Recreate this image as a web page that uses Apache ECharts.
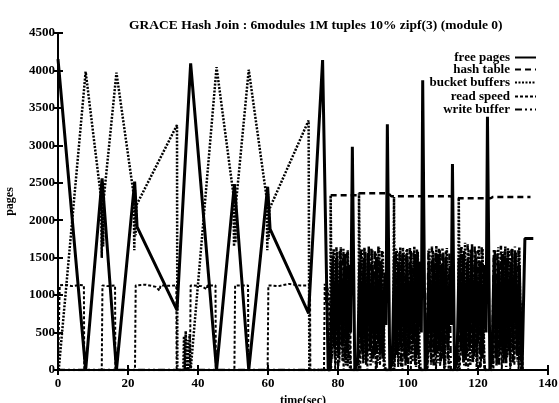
<!DOCTYPE html>
<html>
<head>
<meta charset="utf-8">
<script src="https://cdn.jsdelivr.net/npm/echarts@6/dist/echarts.min.js"></script>
<style>
  html, body { margin: 0; padding: 0; background: #fff; }
  #chart { width: 559px; height: 403px; }
</style>
</head>
<body>
<div id="chart"></div>
<script>
// time (sec) / pages
const freePages = [
  [0, 4150], [7.9, 0], [12.6, 2560], [16.7, 0], [21.9, 2515], [22.6, 1910], [34, 800],
  [37.9, 4095], [45.3, 0], [50.4, 2483], [54.5, 0], [59.9, 2447], [60.6, 1880], [71.6, 757],
  [75.6, 4140], [77.2, 0], [77.8, 0],
  [78.4, 1400], [79.0, 300], [79.6, 1500], [80.2, 200], [80.8, 1450], [81.4, 350], [82.0, 1550], [82.6, 250], [83.2, 1400], [83.6, 500],
  [84.1, 2980], [84.8, 0], [85.6, 100],
  [86.2, 1450], [86.8, 250], [87.4, 1500], [88.0, 150], [88.6, 1550], [89.2, 300], [89.8, 1400], [90.4, 200], [91.0, 1500], [91.6, 350], [92.2, 1450], [92.8, 150], [93.4, 1300], [93.7, 600],
  [94.1, 3280], [94.8, 0], [95.5, 100],
  [96.1, 1500], [96.7, 200], [97.3, 1450], [97.9, 300], [98.5, 1550], [99.1, 150], [99.7, 1500], [100.3, 250], [100.9, 1400], [101.5, 350], [102.1, 1550], [102.7, 200], [103.3, 1450], [103.8, 500],
  [104.2, 3870], [104.9, 0], [105.4, 150],
  [106.0, 1450], [106.6, 300], [107.2, 1500], [107.8, 200], [108.4, 1550], [109.0, 250], [109.6, 1400], [110.2, 150], [110.8, 1500], [111.4, 300], [112.0, 1350], [112.3, 600],
  [112.7, 2750], [113.3, 0], [114.0, 100],
  [114.6, 1500], [115.2, 250], [115.8, 1550], [116.4, 150], [117.0, 1450], [117.6, 300], [118.2, 1600], [118.8, 200], [119.4, 1500], [120.0, 350], [120.6, 1450], [121.2, 150], [121.8, 1400], [122.3, 500],
  [122.7, 3380], [123.4, 0], [124.0, 150],
  [124.6, 1500], [125.2, 200], [125.8, 1450], [126.4, 300], [127.0, 1550], [127.6, 150], [128.2, 1500], [128.8, 250], [129.4, 1450], [130.0, 350], [130.6, 1550], [131.2, 200], [131.8, 1400], [132.3, 300],
  [132.6, 0], [133.4, 1756], [135.8, 1756]
];

const hashTable = [
  [77.9, 2333], [85.9, 2333], [86.1, 2360], [94.4, 2360], [95.2, 2320], [112.0, 2320],
  [114.5, 2293], [123.6, 2293], [124.3, 2311], [135, 2311]
];

const bucketBuffers = [
  [0.2, 0], [7.9, 3984], [12.3, 2300], [12.5, 1500], [12.7, 2450], [12.9, 1650], [13.1, 2300],
  [16.7, 3970], [21.6, 2350], [21.8, 1600], [22.0, 2400], [22.2, 1800], [22.4, 2200], [34, 3271], [34.1, 0],
  [35.8, 0], [36.0, 450], [36.2, 0], [36.5, 520], [36.7, 0], [37.0, 400], [37.2, 0], [37.6, 480], [37.9, 0],
  [45.3, 4044], [50.1, 2350], [50.3, 1650], [50.5, 2400], [50.7, 1700], [50.9, 2250],
  [54.5, 4009], [59.6, 2300], [59.8, 1600], [60.0, 2350], [60.2, 1750], [60.4, 2150],
  [71.6, 3333], [71.8, 0], [77.8, 0], [77.9, 2333],
  [78.3, 150], [78.8, 1620], [79.3, 80], [79.8, 1580], [80.3, 250], [80.8, 1640], [81.3, 120], [81.8, 1550], [82.3, 60], [82.8, 1600], [83.3, 300], [83.6, 0],
  [85.9, 0], [86.0, 2360], [86.3, 900], [86.8, 1620], [87.3, 100], [87.8, 1580], [88.3, 200], [88.8, 1650], [89.3, 50], [89.8, 1600], [90.3, 180], [90.8, 1560], [91.3, 90], [91.8, 1630], [92.3, 220], [92.8, 1590], [93.3, 100], [93.6, 0],
  [95.8, 0], [96.0, 2311], [96.3, 150], [96.8, 1600], [97.3, 80], [97.8, 1640], [98.3, 260], [98.8, 1570], [99.3, 60], [99.8, 1620], [100.3, 200], [100.8, 1590], [101.3, 110], [101.8, 1650], [102.3, 40], [102.8, 1580], [103.3, 250], [103.6, 0],
  [105.3, 0], [105.6, 120], [106.1, 1620], [106.6, 70], [107.1, 1590], [107.6, 230], [108.1, 1660], [108.6, 90], [109.1, 1600], [109.6, 160], [110.1, 1570], [110.6, 40], [111.1, 1630], [111.6, 200], [111.9, 0],
  [114.3, 0], [114.5, 2293], [114.8, 800], [115.3, 1650], [115.8, 100], [116.3, 1700], [116.8, 220], [117.3, 1610], [117.8, 60], [118.3, 1680], [118.8, 150], [119.3, 1590], [119.8, 90], [120.3, 1660], [120.8, 240], [121.3, 1620], [121.8, 80], [122.1, 0],
  [124.0, 0], [124.3, 100], [124.8, 1600], [125.3, 60], [125.8, 1640], [126.3, 210], [126.8, 1580], [127.3, 90], [127.8, 1650], [128.3, 170], [128.8, 1600], [129.3, 50], [129.8, 1620], [130.3, 230], [130.8, 1570], [131.3, 110], [131.8, 1640], [132.3, 30], [132.6, 0]
];

const readSpeed = [
  [0, 0], [0.5, 1130], [2, 1140], [4, 1120], [6, 1135], [7.4, 1130], [7.5, 0],
  [12.5, 0], [12.7, 1130], [14, 1120], [16.3, 1130], [16.4, 0],
  [22.0, 0], [22.2, 1130], [25, 1140], [28, 1110], [29, 1060], [29.3, 1130], [32, 1125], [33.8, 1130], [33.9, 0],
  [37.7, 0], [37.9, 1130], [41, 1120], [42.5, 1080], [42.7, 1130], [45.0, 1130], [45.1, 0],
  [50.4, 0], [50.6, 1130], [54.3, 1130], [54.4, 0],
  [59.9, 0], [60.1, 1130], [63, 1120], [66, 1150], [69, 1130], [72.0, 1130], [72.1, 0],
  [76.0, 0], [76.2, 1150], [76.6, 900], [77.0, 1100], [77.4, 950], [77.7, 0],
  [78.6, 950], [79.2, 0], [79.8, 900], [80.4, 100], [81.0, 980], [81.6, 0], [82.2, 920], [82.8, 50], [83.4, 950], [83.7, 0],
  [86.4, 0], [86.6, 940], [87.2, 80], [87.8, 960], [88.4, 0], [89.0, 900], [89.6, 120], [90.2, 970], [90.8, 0], [91.4, 930], [92.0, 60], [92.6, 950], [93.2, 0],
  [96.2, 0], [96.6, 960], [97.2, 40], [97.8, 910], [98.4, 0], [99.0, 980], [99.6, 100], [100.2, 940], [100.8, 0], [101.4, 960], [102.0, 70], [102.6, 920], [103.2, 0],
  [105.6, 0], [106.2, 950], [106.8, 90], [107.4, 970], [108.0, 0], [108.6, 930], [109.2, 50], [109.8, 960], [110.4, 0], [111.0, 940], [111.6, 0],
  [114.8, 0], [115.4, 970], [116.0, 60], [116.6, 930], [117.2, 0], [117.8, 960], [118.4, 110], [119.0, 950], [119.6, 0], [120.2, 980], [120.8, 40], [121.4, 920], [121.9, 0],
  [124.4, 0], [125.0, 950], [125.6, 80], [126.2, 960], [126.8, 0], [127.4, 930], [128.0, 100], [128.6, 970], [129.2, 0], [129.8, 940], [130.4, 60], [131.0, 960], [131.6, 0], [132.2, 900], [132.8, 0]
];

const writeBuffer = [
  [0, 0], [78.0, 0],
  [78.55, 1580], [79.05, 200], [79.55, 1640], [80.05, 50], [80.55, 1600], [81.05, 280], [81.55, 1620], [82.05, 100], [82.55, 1570], [83.05, 180], [83.5, 0],
  [86.05, 0], [86.55, 1600], [87.05, 150], [87.55, 1640], [88.05, 70], [88.55, 1580], [89.05, 240], [89.55, 1620], [90.05, 100], [90.55, 1600], [91.05, 30], [91.55, 1650], [92.05, 190], [92.55, 1590], [93.05, 60], [93.5, 0],
  [96.05, 0], [96.55, 1620], [97.05, 210], [97.55, 1580], [98.05, 40], [98.55, 1640], [99.05, 170], [99.55, 1600], [100.05, 80], [100.55, 1630], [101.05, 260], [101.55, 1570], [102.05, 120], [102.55, 1610], [103.05, 50], [103.5, 0],
  [105.35, 0], [105.85, 1600], [106.35, 180], [106.85, 1650], [107.35, 60], [107.85, 1580], [108.35, 230], [108.85, 1620], [109.35, 100], [109.85, 1640], [110.35, 20], [110.85, 1600], [111.35, 150], [111.85, 1560], [112.2, 0],
  [114.55, 0], [115.05, 1630], [115.55, 190], [116.05, 1600], [116.55, 50], [117.05, 1680], [117.55, 260], [118.05, 1620], [118.55, 90], [119.05, 1650], [119.55, 170], [120.05, 1600], [120.55, 30], [121.05, 1640], [121.55, 200], [122.0, 0],
  [124.05, 0], [124.55, 1620], [125.05, 160], [125.55, 1600], [126.05, 70], [126.55, 1660], [127.05, 220], [127.55, 1590], [128.05, 40], [128.55, 1630], [129.05, 180], [129.55, 1610], [130.05, 90], [130.55, 1650], [131.05, 250], [131.55, 1600], [132.05, 60], [132.4, 0]
];

const FONT = "'Liberation Serif', 'DejaVu Serif', serif";
const txt = { color: "#000", fontFamily: FONT, fontWeight: "bold", fontSize: 13 };

const lineSeries = (name, data, type, width) => ({
  name,
  type: "line",
  data,
  color: "#000",
  symbol: "none",
  animation: false,
  silent: true,
  itemStyle: { color: "#000" },
  lineStyle: { color: "#000", width, type }
});

const legendRow = (name, top) => ({
  data: [name],
  right: 22,
  top,
  align: "right",
  itemWidth: 21,
  itemHeight: 10,
  padding: 0,
  selectedMode: false,
  itemStyle: { opacity: 0 },
  textStyle: { ...txt, fontSize: 13 }
});

const myChart = echarts.init(document.getElementById("chart"));

const option = {
  backgroundColor: "#fff",
  animation: false,
  title: {
    text: "GRACE Hash Join : 6modules 1M tuples 10% zipf(3) (module 0)",
    left: 124,
    top: 14,
    textStyle: { ...txt, fontSize: 13.5 }
  },
  legend: [
    legendRow("free pages", 51),
    legendRow("hash table", 63),
    legendRow("bucket buffers", 76),
    legendRow("read speed", 90),
    legendRow("write buffer", 103)
  ],
  grid: { left: 58, right: 11, top: 33, bottom: 33, outerBoundsMode: "none" },
  xAxis: [
    {
      type: "value",
      min: 0,
      max: 140,
      interval: 20,
      name: "time(sec)",
      nameLocation: "middle",
      nameGap: 25,
      nameTextStyle: { ...txt, fontSize: 12 },
      axisLine: { lineStyle: { color: "#000", width: 2 } },
      axisTick: { inside: true, length: 5, lineStyle: { color: "#000", width: 2 } },
      axisLabel: { ...txt, margin: 7 },
      splitLine: { show: false }
    },
    {
      type: "value",
      position: "top",
      min: 0,
      max: 140,
      interval: 20,
      axisLine: { lineStyle: { color: "#000", width: 2 } },
      axisTick: { inside: true, length: 5, lineStyle: { color: "#000", width: 2 } },
      axisLabel: { show: false },
      splitLine: { show: false }
    }
  ],
  yAxis: [
    {
      type: "value",
      min: 0,
      max: 4500,
      interval: 500,
      name: "pages",
      nameLocation: "middle",
      nameGap: 42,
      nameTextStyle: { ...txt, fontSize: 12 },
      axisLine: { show: true, lineStyle: { color: "#000", width: 2 } },
      axisTick: { show: true, inside: true, length: 5, lineStyle: { color: "#000", width: 2 } },
      axisLabel: { ...txt, margin: 3, formatter: (v) => String(v) },
      splitLine: { show: false }
    },
    {
      type: "value",
      position: "right",
      min: 0,
      max: 4500,
      interval: 500,
      axisLine: { show: true, lineStyle: { color: "#000", width: 2 } },
      axisTick: { show: true, inside: true, length: 5, lineStyle: { color: "#000", width: 2 } },
      axisLabel: { show: false },
      splitLine: { show: false }
    }
  ],
  series: [
    lineSeries("free pages", freePages, "solid", 3),
    lineSeries("hash table", hashTable, [6, 4], 2.5),
    lineSeries("bucket buffers", bucketBuffers, [2, 1.5], 2.5),
    lineSeries("read speed", readSpeed, [3, 2], 2),
    lineSeries("write buffer", writeBuffer, [7, 3, 2, 3, 2, 3], 2.5)
  ]
};

myChart.setOption(option);
</script>
</body>
</html>
